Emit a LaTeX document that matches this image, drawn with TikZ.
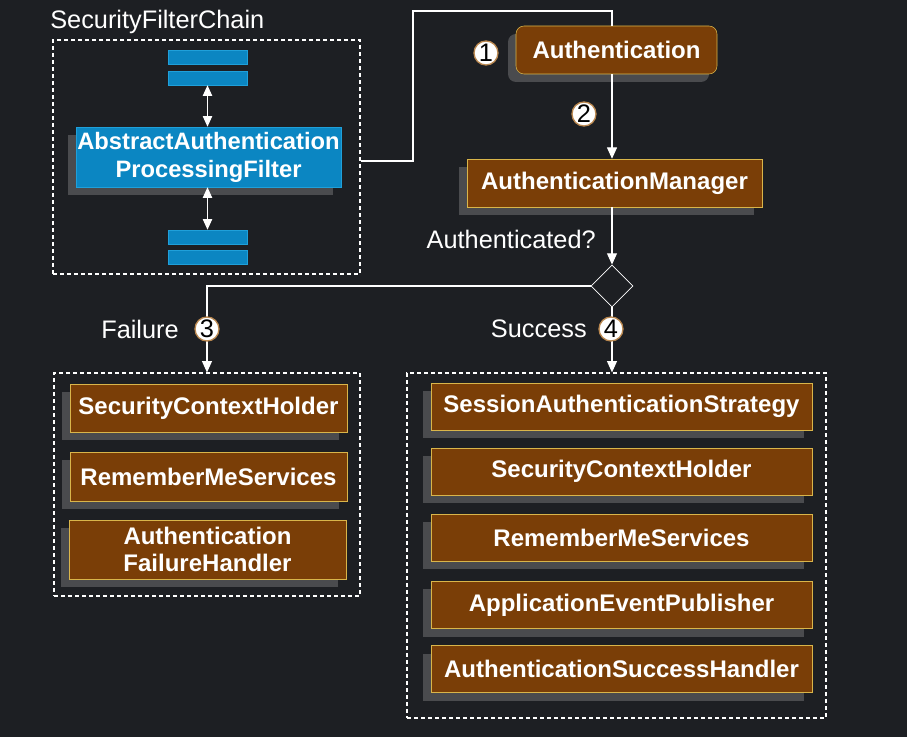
\documentclass[tikz,border=0pt]{standalone}
\usepackage{fontspec}
\setmainfont{Liberation Sans}
\usetikzlibrary{positioning,shapes.geometric,shadows,arrows.meta}
\definecolor{bg}{HTML}{1D1F23}
\definecolor{brownfill}{HTML}{7A3E07}
\definecolor{goldline}{HTML}{D9B54A}
\definecolor{shadowgray}{HTML}{4A4B4E}
\definecolor{bluefill}{HTML}{0B86C2}
\definecolor{blueline}{HTML}{1FA0DA}
\definecolor{numline}{HTML}{B9874F}
\tikzset{comp/.style={draw=goldline,fill=brownfill,text=white,align=center,inner xsep=0pt,inner ysep=2pt,font=\bfseries\fontsize{18}{20.5}\selectfont,drop shadow={shadow xshift=-6pt,shadow yshift=-6pt,fill=shadowgray,opacity=1}}}
\tikzset{filterbox/.style={comp,draw=blueline,fill=bluefill,font=\bfseries\fontsize{17.8}{21}\selectfont}}
\tikzset{bar/.style={draw=blueline,fill=bluefill,minimum width=59.25pt,minimum height=10.5pt,inner sep=0pt}}
\tikzset{group/.style={draw=white,line width=0.9pt,dash pattern=on 3pt off 2.25pt,inner sep=0pt}}
\tikzset{decision/.style={diamond,draw=white,fill=bg,line width=0.6pt,minimum width=31.5pt,minimum height=31.5pt,inner sep=0pt}}
\tikzset{textlabel/.style={text=white,inner sep=0pt,font=\fontsize{19}{19}\selectfont}}
\tikzset{num/.style={circle,draw=numline,fill=white,text=black,line width=1pt,inner sep=0pt,minimum size=18pt,font=\fontsize{19}{19}\selectfont}}
\tikzset{wire/.style={draw=white,line width=0.8pt}}
\tikzset{arrow/.style={wire,-{Triangle[length=8.5pt,width=7.5pt]}}}
\tikzset{dblarrow/.style={wire,{Triangle[length=8pt,width=7pt]}-{Triangle[length=8pt,width=7pt]}}}

\begin{document}
\begin{tikzpicture}[x=0.75pt,y=-0.75pt]
  \fill[bg] (0,0) rectangle (907,737);
  \useasboundingbox (0,0) rectangle (907,737);
  \coordinate (spine) at (612,0);
  \coordinate (bend) at (413,11);

  % Filter chain
  \node[textlabel,anchor=west] (chainlabel) at (50,22) {SecurityFilterChain};
  \node[group,minimum width=230.25pt,minimum height=175.5pt] (chain) at (206.5,157) {};
  \foreach \n/\y in {bar1/57,bar2/78,bar3/237,bar4/257}
    \node[bar] (\n) at (207.5,\y) {};
  \node[filterbox,minimum width=198.75pt,minimum height=45pt] (filter) at (208.5,157) {AbstractAuthentication\\ProcessingFilter};
  \draw[dblarrow] (bar2.south) -- (bar2.south |- filter.north);
  \draw[dblarrow] (bar3.north |- filter.south) -- (bar3.north);

  % Authentication and manager
  \node[comp,rounded corners=6pt,minimum width=150.75pt,minimum height=36pt] (auth) at (616.5,50) {Authentication};
  \node[comp,minimum width=221.25pt,minimum height=36pt] (mgr) at (614.5,183) {AuthenticationManager};
  \node[textlabel,anchor=east] (asklabel) at (596,239) {Authenticated?};

  % Failure group
  \node[group,minimum width=229.5pt,minimum height=167.25pt] (failbox) at (207,484.5) {};
  \node[comp,minimum width=207.75pt,minimum height=36pt] (fail1) at (208.5,408) {SecurityContextHolder};
  \node[comp,minimum width=207.75pt,minimum height=36.75pt] (fail2) at (208.5,476.5) {RememberMeServices};
  \node[comp,minimum width=207.75pt,minimum height=44.25pt] (fail3) at (207.5,549.5) {Authentication\\FailureHandler};
  \node[textlabel,anchor=east] (faillabel) at (179,329) {Failure};

  % Success group
  \node[group,minimum width=314.25pt,minimum height=258.75pt] (succbox) at (616.5,545.5) {};
  \foreach \n/\y/\t in {succ1/406.5/SessionAuthenticationStrategy,succ2/471.5/SecurityContextHolder,succ3/537.5/RememberMeServices,succ4/605/ApplicationEventPublisher,succ5/669/AuthenticationSuccessHandler}
    \node[comp,minimum width=285.75pt,minimum height=35.25pt] (\n) at (621.5,\y) {\t};
  \node[textlabel,anchor=east] (succlabel) at (587,329) {Success};

  % Connectors
  \draw[wire] ([yshift=-3pt]chain.east) -| (bend) -| (auth.north -| spine);
  \draw[arrow] (auth.south -| spine) -- (mgr.north -| spine);
  \node[decision] (check) at (612,286) {};
  \draw[arrow] (mgr.south -| spine) -- (check.north);
  \draw[arrow] (check.west) -| (failbox.north);
  \draw[arrow] (check.south) -- (succbox.north -| check);

  % Step numbers
  \node[num] (step1) at (486,53) {1};
  \node[num] (step2) at (584,114) {2};
  \node[num] (step3) at (207,329) {3};
  \node[num] (step4) at (611,329) {4};
\end{tikzpicture}
\end{document}
